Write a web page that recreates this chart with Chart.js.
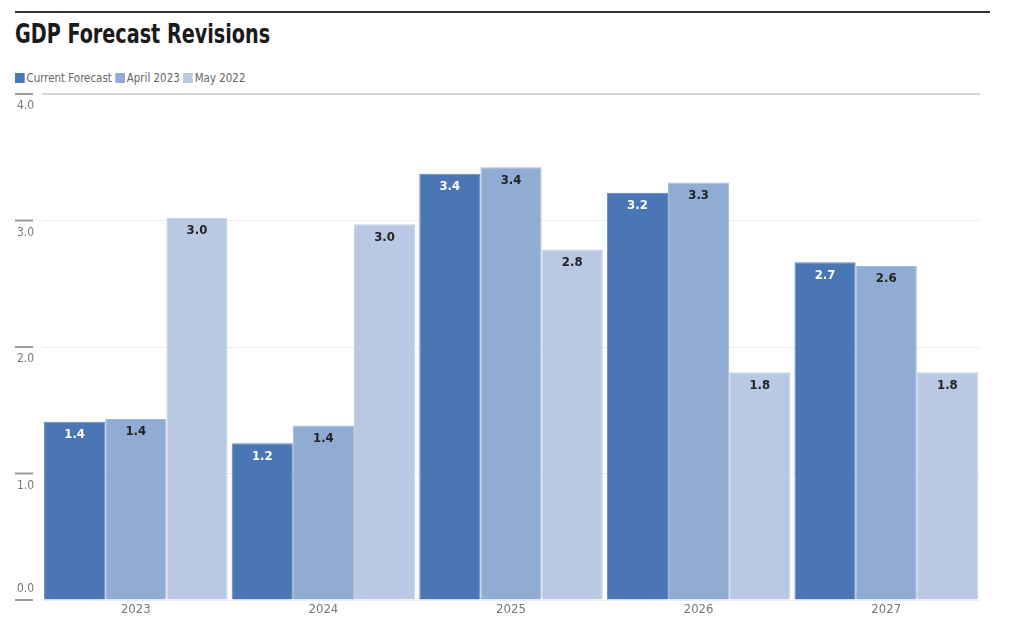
<!DOCTYPE html>
<html>
<head>
<meta charset="utf-8">
<script src="https://cdn.jsdelivr.net/npm/chart.js@4.4.0/dist/chart.umd.min.js"></script>
<style>
  body { margin: 0; background: #fff; width: 1024px; height: 637px; overflow: hidden; position: relative;
         font-family: "Liberation Sans Narrow", "DejaVu Sans Condensed", "Roboto", sans-serif; }
  .rule { position: absolute; left: 15px; top: 11px; width: 975px; height: 2px; background: #333; }
  .title { position: absolute; left: 15px; top: 18px; font-size: 27px; font-weight: bold; color: #1a1a1a;
           transform: scaleX(0.79); transform-origin: left top; white-space: nowrap; }
  .legend { position: absolute; left: 15px; top: 70px; font-size: 13px; color: #666; white-space: nowrap;
            transform: scaleX(0.88); transform-origin: left top; }
  .legend span.box { display: inline-block; width: 11px; height: 10px; margin-right: 2px; vertical-align: -1px; }
  .legend span.item { margin-right: 4px; }
  #wrap { position: absolute; left: 0; top: 80px; width: 1024px; height: 557px; }
</style>
</head>
<body>
<div class="rule"></div>
<div class="title">GDP Forecast Revisions</div>
<div class="legend" id="legend"></div>
<div id="wrap"><canvas id="gdpChart"></canvas></div>
<script>
// ===== DATA =====
const years = ["2023", "2024", "2025", "2026", "2027"];
const currentForecast = [1.41, 1.24, 3.37, 3.22, 2.67];
const april2023 = [1.43, 1.38, 3.42, 3.30, 2.64];
const may2022 = [3.02, 2.97, 2.77, 1.80, 1.80];
const yTicks = [0, 1, 2, 3, 4];

const seriesNames = ["Current Forecast", "April 2023", "May 2022"];
const seriesColors = ["#4a76b5", "#91acd3", "#b9c9e3"];
const borderColors = ["#5f86bf", "#a3b9da", "#c6d3e8"];
const labelColors = ["#ffffff", "#222222", "#222222"];

// HTML legend
const legendEl = document.getElementById("legend");
seriesNames.forEach((name, i) => {
    legendEl.innerHTML += `<span class="box" style="background:${seriesColors[i]}"></span><span class="item">${name}</span>`;
});

const fontFamily = '"Liberation Sans Narrow", "DejaVu Sans Condensed", "Roboto", sans-serif';

// Value labels inside top of each bar
const barLabels = {
    id: "barLabels",
    afterDatasetsDraw(chart) {
        const ctx = chart.ctx;
        ctx.save();
        ctx.font = `bold 13px ${fontFamily}`;
        ctx.textAlign = "center";
        ctx.textBaseline = "middle";
        chart.data.datasets.forEach((ds, i) => {
            chart.getDatasetMeta(i).data.forEach((bar, j) => {
                ctx.fillStyle = labelColors[i];
                ctx.fillText(ds.data[j].toFixed(1), bar.x, bar.y + 13);
            });
        });
        ctx.restore();
    },
};

// Axis labels: y values under each gridline with a short tick mark, years under the bars
const axisLabels = {
    id: "axisLabels",
    afterDraw(chart) {
        const ctx = chart.ctx;
        const y = chart.scales.y;
        const x = chart.scales.x;
        ctx.save();
        ctx.font = `12px ${fontFamily}`;
        ctx.textAlign = "left";
        ctx.textBaseline = "middle";
        yTicks.forEach((v) => {
            const py = y.getPixelForValue(v);
            ctx.strokeStyle = "#999";
            ctx.lineWidth = 2;
            ctx.beginPath();
            ctx.moveTo(15, py);
            ctx.lineTo(33, py);
            ctx.stroke();
            ctx.fillStyle = "#777";
            const ly = v === 0 ? py - 11 : py + 12;
            ctx.fillText(v.toFixed(1), 17, ly);
        });
        ctx.font = `13px ${fontFamily}`;
        ctx.textAlign = "center";
        years.forEach((label, i) => {
            ctx.fillText(label, x.getPixelForValue(i), chart.chartArea.bottom + 10);
        });
        ctx.restore();
    },
};

new Chart(document.getElementById("gdpChart"), {
    type: "bar",
    data: {
        labels: years,
        datasets: [
            { label: seriesNames[0], data: currentForecast },
            { label: seriesNames[1], data: april2023 },
            { label: seriesNames[2], data: may2022 },
        ].map((ds, i) => ({
            ...ds,
            backgroundColor: seriesColors[i],
            borderColor: borderColors[i],
            borderWidth: 1,
            categoryPercentage: 0.978,
            barPercentage: 1.0,
        })),
    },
    options: {
        responsive: true,
        maintainAspectRatio: false,
        animation: false,
        layout: { padding: { left: 42, right: 44, top: 14, bottom: 29 } },
        plugins: {
            legend: { display: false },
            tooltip: { enabled: false },
        },
        scales: {
            x: {
                grid: { display: false },
                border: { display: false },
                ticks: { display: false },
            },
            y: {
                min: 0,
                max: 4,
                ticks: { display: false, stepSize: 1 },
                grid: {
                    color: (c) => (c.tick && c.tick.value === 4 ? "#d6d6d6" : "#ececec"),
                    lineWidth: (c) => (c.tick && c.tick.value === 4 ? 2 : 1),
                    drawTicks: false,
                },
                border: { display: false },
            },
        },
    },
    plugins: [barLabels, axisLabels],
});
</script>
</body>
</html>
